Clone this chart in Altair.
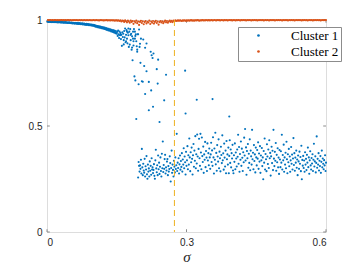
import altair as alt
import pandas as pd

# ---------------- data ----------------
clusters = ["Cluster 1", "Cluster 2"]
colors = ["#0072BD", "#D95319"]
x_ticks = [0, 0.3, 0.6]
y_ticks = [0, 0.5, 1]
threshold = [0.274]

# Cluster 1, one value per sigma = 0.001 ... 0.600
y1 = [
    0.993,0.992,0.993,0.991,0.992,0.993,0.991,0.992,0.990,0.992,
    0.991,0.992,0.990,0.991,0.992,0.990,0.991,0.990,0.992,0.990,
    0.991,0.989,0.990,0.991,0.989,0.990,0.991,0.989,0.990,0.988,
    0.990,0.989,0.988,0.990,0.989,0.987,0.989,0.988,0.990,0.987,
    0.988,0.989,0.987,0.988,0.986,0.988,0.987,0.989,0.986,0.987,
    0.987,0.985,0.988,0.986,0.984,0.987,0.985,0.986,0.983,0.986,
    0.984,0.986,0.983,0.985,0.982,0.985,0.984,0.981,0.985,0.983,
    0.982,0.984,0.980,0.983,0.981,0.984,0.979,0.982,0.980,0.983,
    0.978,0.981,0.980,0.977,0.982,0.979,0.978,0.981,0.976,0.980,
    0.978,0.975,0.979,0.977,0.974,0.978,0.976,0.973,0.977,0.975,
    0.972,0.976,0.970,0.974,0.968,0.973,0.971,0.966,0.972,0.969,
    0.965,0.970,0.967,0.963,0.969,0.966,0.961,0.967,0.964,0.960,
    0.966,0.962,0.958,0.964,0.960,0.956,0.962,0.957,0.953,0.960,
    0.955,0.951,0.958,0.953,0.949,0.956,0.950,0.946,0.954,0.948,
    0.944,0.952,0.946,0.941,0.950,0.943,0.938,0.948,0.940,0.935,
    0.944,0.925,0.950,0.932,0.915,0.945,0.928,0.938,0.910,0.930,
    0.878,0.942,0.920,0.935,0.905,0.948,0.918,0.960,0.895,0.930,
    0.952,0.912,0.890,0.940,0.928,0.873,0.945,0.884,0.957,0.905,
    0.935,0.860,0.923,0.810,0.945,0.900,0.957,0.734,0.912,0.715,
    0.933,0.533,0.876,0.850,0.933,0.257,0.330,0.312,0.285,0.314,
    0.298,0.341,0.276,0.392,0.305,0.268,0.322,0.290,0.280,0.345,
    0.262,0.310,0.295,0.358,0.272,0.251,0.318,0.285,0.300,0.262,
    0.333,0.289,0.312,0.270,0.348,0.295,0.305,0.278,0.293,0.320,
    0.265,0.251,0.338,0.388,0.300,0.282,0.315,0.268,0.361,0.296,
    0.327,0.274,0.308,0.352,0.288,0.262,0.369,0.301,0.427,0.283,
    0.316,0.298,0.344,0.364,0.276,0.305,0.290,0.332,0.344,0.268,
    0.311,0.285,0.297,0.357,0.325,0.238,0.302,0.384,0.279,0.318,
    0.293,0.262,0.336,0.308,0.281,0.352,0.297,0.315,0.463,0.288,
    0.327,0.302,0.348,0.276,0.319,0.361,0.294,0.335,0.307,0.372,
    0.285,0.342,0.318,0.395,0.301,0.356,0.329,0.271,0.378,0.312,
    0.338,0.405,0.296,0.362,0.318,0.441,0.352,0.287,0.376,0.329,
    0.398,0.345,0.271,0.362,0.415,0.308,0.384,0.336,0.452,0.301,
    0.367,0.323,0.460,0.356,0.289,0.392,0.440,0.348,0.312,0.463,
    0.375,0.296,0.446,0.358,0.330,0.403,0.279,0.366,0.341,0.425,
    0.306,0.382,0.351,0.288,0.418,0.337,0.372,0.315,0.394,0.352,
    0.298,0.366,0.421,0.330,0.385,0.312,0.447,0.352,0.276,0.394,
    0.341,0.468,0.319,0.373,0.289,0.410,0.356,0.332,0.437,0.301,
    0.379,0.348,0.286,0.402,0.363,0.325,0.456,0.338,0.371,0.294,
    0.417,0.351,0.309,0.384,0.277,0.429,0.343,0.366,0.318,0.398,
    0.277,0.359,0.433,0.326,0.389,0.305,0.372,0.347,0.411,0.290,
    0.277,0.362,0.331,0.418,0.296,0.375,0.347,0.309,0.389,0.355,
    0.459,0.322,0.401,0.284,0.368,0.341,0.427,0.312,0.393,0.350,
    0.288,0.376,0.329,0.445,0.361,0.486,0.337,0.399,0.270,0.382,
    0.348,0.415,0.303,0.369,0.326,0.437,0.291,0.384,0.357,0.318,
    0.482,0.343,0.374,0.296,0.410,0.335,0.366,0.281,0.398,0.352,
    0.314,0.387,0.346,0.423,0.298,0.370,0.332,0.405,0.279,0.361,
    0.338,0.396,0.311,0.352,0.249,0.382,0.327,0.441,0.295,0.368,
    0.343,0.287,0.414,0.356,0.321,0.389,0.302,0.433,0.348,0.373,
    0.266,0.357,0.402,0.325,0.383,0.292,0.482,0.346,0.311,0.378,
    0.336,0.420,0.289,0.364,0.329,0.395,0.305,0.351,0.274,0.387,
    0.342,0.306,0.381,0.327,0.459,0.295,0.363,0.338,0.412,0.284,
    0.352,0.318,0.374,0.301,0.426,0.343,0.277,0.367,0.329,0.392,
    0.310,0.356,0.284,0.338,0.401,0.322,0.365,0.295,0.347,0.443,
    0.316,0.372,0.289,0.351,0.327,0.384,0.303,0.342,0.268,0.361,
    0.333,0.298,0.379,0.322,0.354,0.287,0.407,0.249,0.340,0.313,
    0.359,0.302,0.337,0.284,0.376,0.318,0.345,0.292,0.364,0.327,
    0.398,0.306,0.352,0.275,0.338,0.381,0.314,0.295,0.349,0.323,
    0.367,0.288,0.341,0.416,0.309,0.333,0.357,0.281,0.326,0.451,
    0.303,0.345,0.318,0.372,0.290,0.336,0.311,0.358,0.279,0.331,
    0.384,0.305,0.347,0.322,0.296,0.339,0.314,0.362,0.288,0.327,
]
sigma1 = [round((i + 1) / 1000, 3) for i in range(len(y1))]

# Cluster 1, extra points of the upper (scattered) branch
extra_sigma = [0.158,0.165,0.170,0.172,0.175,0.180,0.183,0.185,0.186,0.189,
               0.190,0.192,0.194,0.196,0.197,0.198,0.199,0.200,0.201,0.202,
               0.204,0.206,0.207,0.209,0.211,0.211,0.214,0.214,0.219,0.219,
               0.223,0.224,0.225,0.227,0.228,0.229,0.236,0.238,0.239,0.242,
               0.252,0.256,0.297,0.298,0.322,0.356,0.392]
extra_y = [0.930,0.885,0.900,0.945,0.960,0.930,0.870,0.912,0.880,0.945,
           0.925,0.900,0.860,0.933,0.697,0.955,0.873,0.888,0.798,0.912,
           0.711,0.709,0.908,0.783,0.651,0.869,0.758,0.889,0.574,0.708,
           0.850,0.668,0.834,0.821,0.591,0.842,0.768,0.700,0.813,0.519,
           0.621,0.742,0.761,0.559,0.624,0.627,0.545]

# Cluster 2, one value per sigma = 0.002 ... 0.600
y2 = [
    1.000,0.999,1.000,1.000,0.999,1.000,0.999,1.000,1.000,0.999,
    1.000,0.999,1.000,0.999,1.000,1.000,0.999,1.000,0.999,1.000,
    0.999,1.000,1.000,0.999,1.000,0.999,0.999,1.000,0.999,1.000,
    0.999,1.000,0.999,0.999,1.000,0.999,1.000,0.999,0.999,1.000,
    0.999,0.999,1.000,0.999,0.999,1.000,0.999,0.999,0.999,1.000,
    0.999,0.999,1.000,0.999,0.999,0.998,0.999,1.000,0.999,0.999,
    0.998,0.999,0.999,1.000,0.998,0.999,0.999,0.998,0.999,0.999,
    0.998,0.999,0.997,0.999,0.998,
    0.997,0.999,0.995,0.998,0.993,0.997,0.996,0.991,0.998,0.994,
    0.989,0.997,0.993,0.987,0.997,0.991,0.995,0.982,0.994,0.989,
    0.997,0.985,0.993,0.977,0.991,0.996,0.986,0.994,0.980,0.990,
    0.995,0.984,0.992,0.988,0.997,0.981,0.993,0.987,0.995,0.983,
    0.991,0.996,0.986,0.993,0.978,0.990,0.995,0.988,0.994,0.985,
    0.992,0.997,0.989,0.995,0.987,0.993,0.997,0.991,0.996,0.990,
    0.997,0.994,0.998,0.995,0.997,
    0.998,0.996,0.999,0.997,0.995,0.998,0.997,0.999,0.996,0.998,
    0.997,0.999,0.997,0.998,1.000,0.997,0.999,0.997,0.998,0.999,
    0.998,1.000,0.998,0.997,0.999,0.998,1.000,0.998,0.999,0.998,
    1.000,0.999,0.998,1.000,0.998,0.999,1.000,0.998,0.999,1.000,
    0.999,0.998,1.000,0.999,1.000,0.998,0.999,1.000,0.999,0.998,
    1.000,0.999,1.000,0.998,0.999,1.000,0.999,1.000,0.998,0.999,
    1.000,0.999,0.998,1.000,0.999,1.000,0.999,0.998,1.000,0.999,
    1.000,0.999,1.000,0.998,0.999,1.000,0.999,1.000,0.999,0.998,
    1.000,0.999,1.000,0.999,1.000,0.998,0.999,1.000,0.999,1.000,
    0.999,1.000,0.998,0.999,1.000,0.999,1.000,0.999,0.998,1.000,
    0.999,1.000,0.999,1.000,0.998,0.999,1.000,0.999,1.000,0.999,
    1.000,0.999,0.998,1.000,0.999,1.000,0.999,1.000,0.998,0.999,
    1.000,0.999,1.000,0.999,1.000,0.998,0.999,1.000,0.999,1.000,
    0.999,1.000,0.999,0.998,1.000,0.999,1.000,0.999,1.000,0.998,
    0.999,1.000,0.999,1.000,0.999,0.998,1.000,0.999,1.000,0.999,
    1.000,0.999,1.000,0.998,0.999,1.000,0.999,1.000,0.999,1.000,
]
sigma2 = [round((i + 1) * 2 / 1000, 3) for i in range(len(y2))]

# ---------------- tables ----------------
pts = pd.DataFrame({
    "sigma": sigma1 + extra_sigma + sigma2,
    "value": y1 + extra_y + y2,
    "cluster": [clusters[0]] * (len(y1) + len(extra_y)) + [clusters[1]] * len(y2),
    "order": list(range(len(y1) + len(extra_y) + len(y2))),
})
xt = pd.DataFrame({"v": x_ticks})
yt = pd.DataFrame({"v": y_ticks})
thr = pd.DataFrame({"v": threshold})

BOX = "#8c8c8c"
TXT = "#262626"
TICK_X = 0.013   # inward tick length in y units
TICK_Y = 0.006   # inward tick length in x units

xscale = alt.Scale(domain=[0, 0.6], nice=False, zero=False)
yscale = alt.Scale(domain=[0, 1], nice=False, zero=False)

x_axis = alt.Axis(values=x_ticks, labelExpr="datum.value == 0 ? '0' : datum.value == 0.3 ? '0.3' : '0.6'",
                  grid=False, ticks=False, domain=False, labelPadding=5,
                  labelFont="Liberation Sans", labelFontSize=10, labelColor=TXT,
                  title="σ", titleFont="Liberation Serif", titleFontStyle="italic",
                  titleFontWeight="normal", titleFontSize=15, titleColor=TXT, titlePadding=2)
y_axis = alt.Axis(values=y_ticks, labelExpr="datum.value == 0 ? '0' : datum.value == 0.5 ? '0.5' : '1'",
                  grid=False, ticks=False, domain=False, labelPadding=5,
                  labelFont="Liberation Sans", labelFontSize=10, labelColor=TXT, title=None)

points = alt.Chart(pts).mark_circle(size=4.5, opacity=1).encode(
    x=alt.X("sigma:Q", scale=xscale, axis=x_axis),
    y=alt.Y("value:Q", scale=yscale, axis=y_axis),
    color=alt.Color("cluster:N", scale=alt.Scale(domain=clusters, range=colors),
                    legend=alt.Legend(title=None, orient="none", legendX=191, legendY=7,
                                      direction="vertical", symbolType="circle", symbolSize=7,
                                      symbolOffset=12, labelOffset=26, padding=2, rowPadding=2,
                                      labelFont="Liberation Serif", labelFontSize=13,
                                      labelColor="#000000", strokeColor=BOX, fillColor="#ffffff")),
    order=alt.Order("order:Q"),
)

thr_line = alt.Chart(thr).mark_rule(color="#EDB120", strokeWidth=1, strokeDash=[6, 4]).encode(
    x=alt.X("v:Q", scale=xscale)
)

xt_bottom = alt.Chart(xt).mark_rule(color=BOX, strokeWidth=1).encode(
    x=alt.X("v:Q", scale=xscale), y=alt.datum(0), y2=alt.datum(TICK_X))
xt_top = alt.Chart(xt).mark_rule(color=BOX, strokeWidth=1).encode(
    x=alt.X("v:Q", scale=xscale), y=alt.datum(1), y2=alt.datum(1 - TICK_X))
yt_left = alt.Chart(yt).mark_rule(color=BOX, strokeWidth=1).encode(
    y=alt.Y("v:Q", scale=yscale), x=alt.datum(0), x2=alt.datum(TICK_Y))
yt_right = alt.Chart(yt).mark_rule(color=BOX, strokeWidth=1).encode(
    y=alt.Y("v:Q", scale=yscale), x=alt.datum(0.6), x2=alt.datum(0.6 - TICK_Y))

chart = alt.layer(xt_bottom, xt_top, yt_left, yt_right, points, thr_line).properties(
    width=279, height=212,
    autosize=alt.AutoSizeParams(type="none"),
    padding={"left": 39, "top": 12, "right": 18, "bottom": 31},
).configure_view(stroke=BOX, strokeWidth=1).configure(background="#ffffff")

chart.save("out.html", embed_options={"renderer": "svg", "actions": False})
